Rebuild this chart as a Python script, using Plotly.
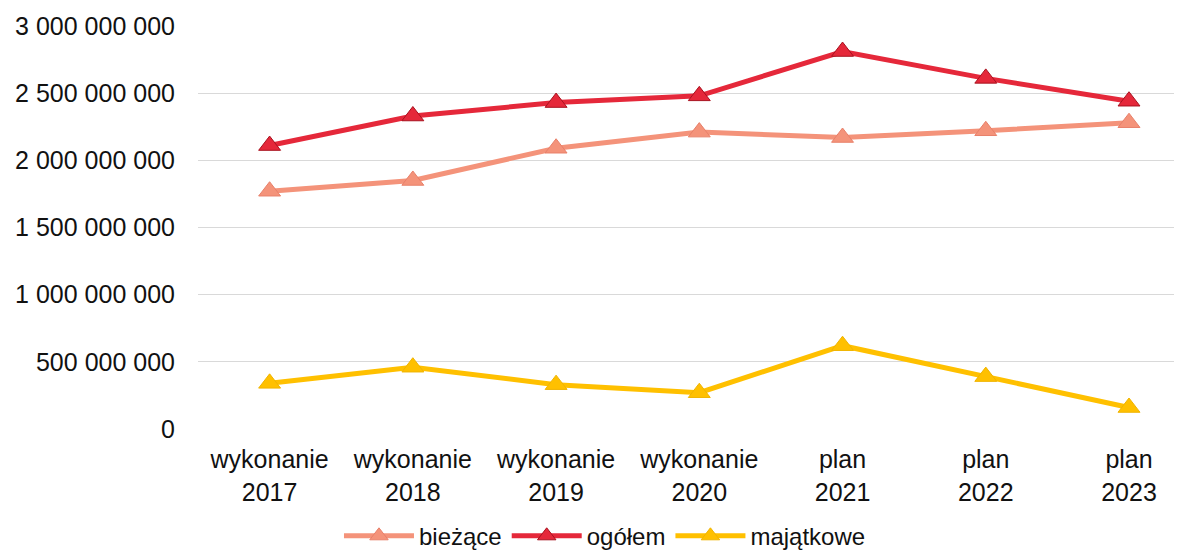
import plotly.graph_objects as go

categories = ['wykonanie<br>2017', 'wykonanie<br>2018', 'wykonanie<br>2019', 'wykonanie<br>2020',
              'plan<br>2021', 'plan<br>2022', 'plan<br>2023']

biezace = [1770000000, 1850000000, 2090000000, 2210000000, 2170000000, 2220000000, 2280000000]
ogolem = [2110000000, 2330000000, 2430000000, 2480000000, 2810000000, 2610000000, 2440000000]
majatkowe = [340000000, 460000000, 330000000, 270000000, 620000000, 390000000, 160000000]

font_name = 'Liberation Sans, Arial, sans-serif'

fig = go.Figure()

fig.add_trace(go.Scatter(
    x=categories, y=biezace, name='bieżące', mode='lines+markers',
    line=dict(color='#F4937A', width=5),
    marker=dict(symbol='triangle-up', size=19, color='#F4937A',
                line=dict(color='#E8806A', width=1))
))
fig.add_trace(go.Scatter(
    x=categories, y=ogolem, name='ogółem', mode='lines+markers',
    line=dict(color='#E5283A', width=5),
    marker=dict(symbol='triangle-up', size=19, color='#E5283A',
                line=dict(color='#A8121F', width=1))
))
fig.add_trace(go.Scatter(
    x=categories, y=majatkowe, name='majątkowe', mode='lines+markers',
    line=dict(color='#FFC000', width=5),
    marker=dict(symbol='triangle-up', size=19, color='#FFC000',
                line=dict(color='#F0B400', width=1))
))

# page body keeps its default 8px margin, so the figure is 16px smaller than the window
fig.update_layout(
    width=1174, height=545,
    margin=dict(l=190, r=0, t=18, b=124, autoexpand=False),
    paper_bgcolor='white', plot_bgcolor='white',
    separators=', ',
    font=dict(family=font_name, size=25, color='#111111'),
    showlegend=True,
    legend=dict(orientation='h', x=0.4136, xanchor='center',
                y=-0.266, yanchor='middle', itemwidth=70,
                font=dict(size=24), traceorder='normal'),
    hovermode=False,
)

fig.update_xaxes(
    range=[-0.5, 6.37], showgrid=False, showline=False, zeroline=False,
    ticks='', tickfont=dict(size=25), ticklabelstandoff=13, automargin=False,
)
fig.update_yaxes(
    range=[0, 3000000000], dtick=500000000, tick0=0, tickformat=',d',
    showgrid=True, gridcolor='#D9D9D9', gridwidth=1, zeroline=False,
    showline=False, ticks='', tickfont=dict(size=25), ticklabelstandoff=22,
    automargin=False,
)

fig.write_html("out.html")
